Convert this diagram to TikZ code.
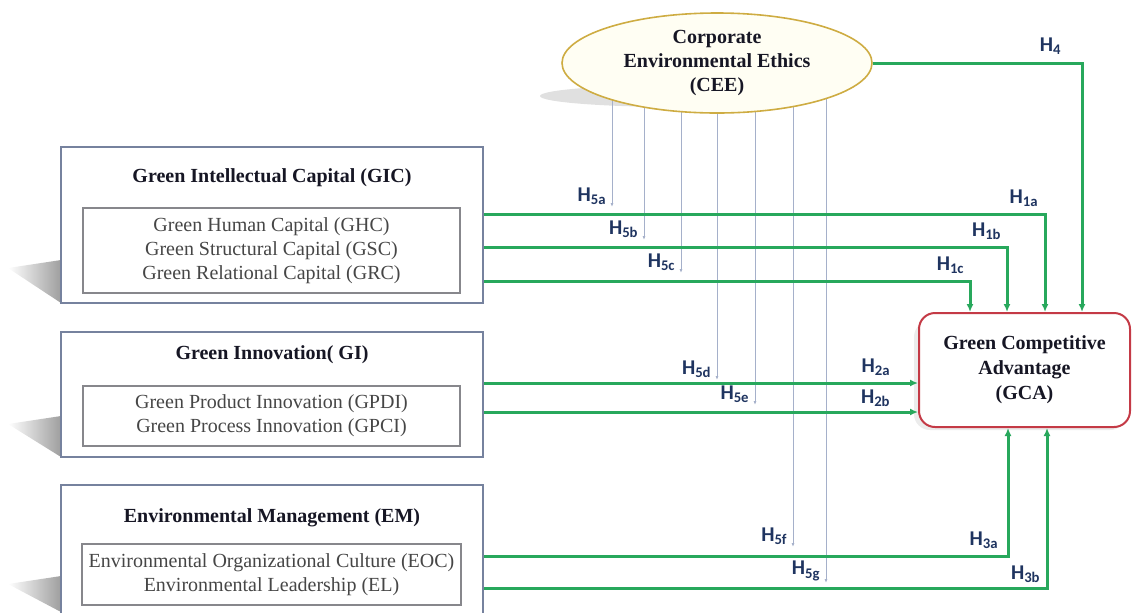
\documentclass[tikz,border=0pt]{standalone}
\usepackage{fontspec}
\setmainfont{Liberation Serif}
\newfontfamily\hfont{Carlito}
\usetikzlibrary{positioning,shapes.geometric,arrows.meta,backgrounds}
\definecolor{hypgreen}{RGB}{40,168,92}
\definecolor{modgray}{RGB}{165,176,202}
\definecolor{labnavy}{RGB}{31,52,96}
\definecolor{boxblue}{RGB}{118,130,158}
\definecolor{innergray}{RGB}{135,135,140}
\definecolor{txtgray}{RGB}{70,70,70}
\definecolor{titleblack}{RGB}{22,22,36}
\definecolor{ceeborder}{RGB}{206,172,66}
\definecolor{ceefill}{RGB}{255,254,243}
\definecolor{gcaborder}{RGB}{196,58,70}

\begin{document}
\begin{tikzpicture}[x=0.5pt, y=-0.5pt,
    outer/.style={draw=boxblue, line width=1pt, fill=white, minimum width=211pt},
    inner/.style={draw=innergray, line width=0.8pt, fill=white, minimum width=188.5pt,
        align=center, font=\fontsize{10}{12}\selectfont, text=txtgray},
    title/.style={font=\bfseries\fontsize{10}{12}\selectfont, text=titleblack},
    hyp/.style={draw=hypgreen, line width=1.5pt, -{Latex[length=4pt,width=3.5pt]}},
    mod/.style={draw=modgray, line width=0.5pt, -{Latex[length=2pt,width=1.5pt]}},
    hlab/.style={font=\hfont\bfseries\fontsize{10.5}{12}\selectfont, text=labnavy,
        anchor=south east, inner sep=1pt},
    boxshadow/.style={left color=white, right color=black!38},
]
\useasboundingbox (0,0) rectangle (1134,612);

% construct boxes
\node[outer, minimum height=78pt] (gic) at (272,225) {};
\node[title] (gict) at (272,178) {Green Intellectual Capital (GIC)};
\node[inner, minimum height=42.5pt] (gicin) at (271.5,250.5)
    {Green Human Capital (GHC)\\Green Structural Capital (GSC)\\Green Relational Capital (GRC)};

\node[outer, minimum height=62.5pt] (gi) at (272,394.5) {};
\node[title] (git) at (272,355) {Green Innovation( GI)};
\node[inner, minimum height=30pt] (giin) at (271.5,416)
    {Green Product Innovation (GPDI)\\Green Process Innovation (GPCI)};

\node[outer, minimum height=67pt] (em) at (272,552) {};
\node[title] (emt) at (272,518) {Environmental Management (EM)};
\node[inner, minimum height=30.5pt] (emin) at (271.5,574.5)
    {Environmental Organizational Culture (EOC)\\Environmental Leadership (EL)};

% moderator and outcome
\node[ellipse, draw=ceeborder, line width=0.8pt, fill=ceefill, minimum width=155pt,
    minimum height=50pt, align=center, inner sep=0pt, text=titleblack,
    font=\bfseries\fontsize{10}{12}\selectfont] (cee) at (717,63)
    {Corporate\\Environmental Ethics\\(CEE)};
\node[draw=gcaborder, line width=1pt, fill=white, rounded corners=8pt,
    minimum width=105.5pt, minimum height=57pt, align=center, text=titleblack,
    font=\bfseries\fontsize{10}{12.5}\selectfont] (gca) at (1024.5,370)
    {Green Competitive\\Advantage\\(GCA)};

% shadows and H5 lines
\begin{scope}[on background layer]
  \shade[boxshadow] (8,268) -- (61,260) -- (61,303) -- cycle;
  \shade[boxshadow] (8,424) -- (61,416) -- (61,457) -- cycle;
  \shade[boxshadow] (8,584) -- (61,576) -- (61,612) -- cycle;
  \fill[black!30, opacity=.4] (680,96) ellipse [x radius=140, y radius=11];
  \fill[black!25, opacity=.3, rounded corners=8pt] (914,321) rectangle (1126,430);
  \foreach \x/\y/\n in {612/207/5a, 644/240/5b, 681/273/5c, 717/380/5d,
                        755/405/5e, 793/547/5f, 826/583/5g} {
    \coordinate (e\n) at (\x,\y);
    \draw[mod] (cee.center -| e\n) -- (e\n);
  }
\end{scope}
\foreach \n in {5a,5b,5c,5d,5e,5f,5g}
  \node[hlab] (l\n) at ([xshift=-1.5pt]e\n) {H\textsubscript{\n}};

% green paths
\coordinate (g1a) at (1045,214);
\coordinate (g1b) at (1007,247);
\coordinate (g1c) at (970,281);
\coordinate (g2a) at (919,383);
\coordinate (g2b) at (919,412);
\coordinate (g3a) at (1008,556);
\coordinate (g3b) at (1047,588);
\coordinate (g4) at (1082,63);
\draw[hyp] (gic.east |- g1a) -| (gca.north -| g1a);
\draw[hyp] (gic.east |- g1b) -| (gca.north -| g1b);
\draw[hyp] (gic.east |- g1c) -| (gca.north -| g1c);
\draw[hyp] (gi.east |- g2a) -- (gca.west |- g2a);
\draw[hyp] (gi.east |- g2b) -- (gca.west |- g2b);
\draw[hyp] (em.east |- g3a) -| (gca.south -| g3a);
\draw[hyp] (em.east |- g3b) -| (gca.south -| g3b);
\draw[hyp] (cee.east) -| (gca.north -| g4);

\node[hlab] (l1a) at (1041,209) {H\textsubscript{1a}};
\node[hlab] (l1b) at (1004,242) {H\textsubscript{1b}};
\node[hlab] (l1c) at (967,276) {H\textsubscript{1c}};
\node[hlab] (l2a) at (893,378) {H\textsubscript{2a}};
\node[hlab] (l2b) at (893,409) {H\textsubscript{2b}};
\node[hlab] (l3a) at (1001,551) {H\textsubscript{3a}};
\node[hlab] (l3b) at (1043,585) {H\textsubscript{3b}};
\node[hlab] (l4) at (1064,57) {H\textsubscript{4}};
\end{tikzpicture}
\end{document}
